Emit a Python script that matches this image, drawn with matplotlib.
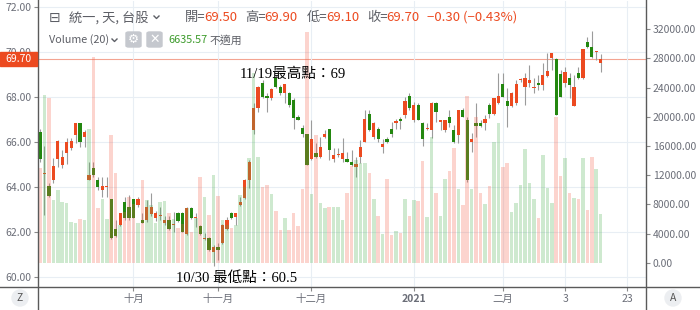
import matplotlib
matplotlib.use("Agg")
import matplotlib.pyplot as plt
import numpy as np
from matplotlib.lines import Line2D
from matplotlib.patches import Rectangle, FancyBboxPatch, Ellipse

plt.rcParams['font.family'] = ['Noto Sans CJK TC', 'DejaVu Sans']

# daily OHLC, 統一 (1216), 2020-09 .. 2021-03
opens = [66.46, 64.58, 64.04, 64.31, 65.23, 64.98, 65.50, 65.72, 66.31, 66.83,
         66.21, 64.31, 64.86, 64.31, 63.87, 64.02, 63.45, 62.12, 62.31, 63.32,
         63.13, 63.45, 63.20, 62.53, 62.53, 62.80, 62.64, 62.70, 62.41, 62.53,
         62.30, 62.83, 62.83, 61.90, 63.05, 62.63, 62.27, 61.71, 61.72, 61.10,
         61.32, 61.50, 62.12, 62.83, 62.65, 63.20, 63.50, 64.31, 66.53, 67.53,
         68.64, 68.04, 67.94, 68.83, 68.46, 68.16, 68.16, 67.87, 67.13, 66.61,
         66.34, 65.23, 65.53, 65.32, 66.22, 66.56, 65.23, 65.41, 65.23, 65.23,
         65.13, 64.90, 65.32, 66.01, 67.24, 66.21, 66.56, 65.79, 66.13, 66.56,
         66.83, 67.04, 67.20, 68.04, 66.98, 67.64, 66.83, 66.60, 66.53, 67.75,
         66.90, 66.53, 67.13, 66.53, 66.31, 67.42, 67.00, 66.01, 66.83, 66.83,
         66.83, 67.63, 67.24, 67.72, 68.56, 67.82, 67.61, 67.72, 68.75, 68.43,
         68.61, 68.42, 68.64, 68.53, 68.93, 69.72, 69.69, 69.02, 68.61, 68.86,
         67.61, 69.05, 68.83, 70.46, 70.24, 69.99, 69.50]
highs = [66.60, 65.82, 64.16, 65.27, 66.10, 65.64, 66.16, 66.16, 66.86, 66.86,
         66.53, 65.13, 65.13, 64.46, 64.46, 64.46, 63.45, 62.53, 62.83, 63.57,
         63.65, 63.45, 63.54, 62.83, 63.42, 63.72, 62.95, 63.13, 62.71, 62.71,
         62.90, 62.90, 62.90, 63.10, 63.13, 62.83, 62.31, 61.94, 61.79, 61.42,
         61.50, 62.35, 62.68, 62.90, 62.83, 63.57, 64.34, 65.20, 67.75, 68.49,
         68.75, 68.16, 68.38, 69.00, 68.53, 68.60, 68.24, 67.94, 67.20, 66.75,
         66.34, 67.00, 65.94, 66.24, 66.53, 66.56, 65.72, 65.72, 66.20, 65.57,
         65.64, 65.35, 66.09, 67.42, 67.42, 66.90, 66.65, 66.12, 66.24, 66.90,
         67.02, 67.10, 68.00, 68.16, 67.79, 67.72, 66.90, 66.83, 67.79, 67.79,
         67.00, 67.00, 67.42, 66.75, 67.42, 67.50, 67.10, 66.42, 67.75, 66.98,
         67.20, 67.72, 67.94, 69.05, 69.05, 68.39, 68.24, 68.75, 68.83, 69.05,
         69.42, 68.83, 68.98, 69.53, 69.94, 69.94, 69.72, 69.20, 69.35, 69.05,
         68.98, 69.35, 70.12, 70.65, 70.93, 70.06, 69.90]
lows = [65.10, 62.76, 63.57, 64.19, 64.90, 64.83, 65.02, 65.65, 65.94, 65.79,
        65.76, 64.31, 64.46, 63.87, 63.54, 63.57, 61.69, 61.79, 62.27, 62.53,
        62.53, 62.64, 63.13, 62.41, 62.46, 62.70, 62.50, 62.53, 62.30, 62.09,
        62.00, 62.46, 62.01, 61.85, 62.60, 62.24, 61.87, 61.64, 61.17, 60.50,
        60.75, 61.46, 62.09, 62.60, 62.31, 63.17, 63.45, 63.94, 66.36, 67.35,
        67.94, 67.35, 67.87, 68.38, 68.09, 67.72, 67.57, 66.56, 66.98, 66.24,
        65.00, 65.20, 65.27, 65.27, 66.20, 65.20, 65.12, 65.35, 65.12, 65.09,
        64.93, 64.46, 65.05, 66.01, 66.50, 66.12, 66.01, 65.53, 65.97, 66.24,
        66.60, 66.60, 67.05, 67.42, 66.90, 66.98, 65.83, 66.53, 66.16, 66.90,
        66.53, 66.46, 66.65, 65.94, 65.94, 67.10, 64.24, 65.57, 66.24, 66.65,
        66.53, 67.05, 67.20, 67.70, 68.00, 66.65, 67.57, 67.64, 68.68, 67.64,
        68.45, 68.16, 68.31, 68.31, 68.90, 69.20, 67.20, 67.98, 68.46, 67.94,
        67.61, 68.79, 68.79, 70.16, 69.72, 69.65, 69.10]
closes = [65.23, 64.62, 63.60, 64.93, 66.04, 65.35, 66.01, 66.04, 66.83, 66.01,
          66.43, 64.53, 64.53, 64.01, 64.04, 64.05, 61.72, 61.82, 62.83, 62.61,
          62.64, 62.64, 63.45, 62.41, 63.13, 63.13, 62.83, 62.72, 62.53, 62.12,
          62.32, 62.49, 62.01, 63.05, 62.64, 62.65, 61.90, 61.73, 61.20, 61.32,
          61.20, 62.31, 62.53, 62.64, 62.83, 63.35, 64.31, 65.13, 67.53, 68.46,
          68.01, 67.94, 68.34, 68.46, 68.16, 68.56, 67.64, 67.05, 66.98, 66.34,
          65.00, 66.12, 65.35, 65.76, 66.34, 65.64, 65.42, 65.43, 65.53, 65.13,
          65.00, 65.02, 65.76, 67.02, 66.53, 66.83, 66.12, 65.91, 66.01, 66.34,
          66.95, 66.93, 67.82, 67.50, 67.64, 66.98, 66.12, 66.62, 67.75, 67.35,
          67.00, 67.00, 66.83, 66.01, 67.42, 67.13, 64.31, 66.13, 66.71, 66.71,
          67.02, 67.24, 67.94, 68.04, 68.01, 67.61, 68.16, 68.56, 68.77, 68.83,
          68.76, 68.44, 68.53, 69.00, 69.16, 69.94, 67.20, 68.01, 69.13, 68.53,
          68.46, 68.83, 70.12, 70.21, 69.79, 70.00, 69.70]
volumes = [13000, 22970, 22520, 8590, 9960, 8360, 8130, 5620, 5390, 5980,
           5850, 18310, 28220, 7500, 8770, 6000, 17490, 12240, 5160, 7000,
           9000, 8000, 5500, 11330, 8590, 7900, 5480, 8310, 8450, 6760,
           5940, 4700, 5250, 7440, 4250, 6070, 11780, 9040, 6530, 12010,
           9130, 5850, 5160, 4700, 5200, 9300, 10400, 14300, 26000, 14500,
           10410, 10640, 9410, 7080, 4480, 6070, 4480, 6850, 5070, 10090,
           31650, 9360, 17500, 8130, 7440, 7670, 7670, 7670, 5850, 9590,
           13240, 14070, 13600, 13700, 12240, 8680, 6390, 3880, 11420, 3790,
           4340, 4110, 8680, 6390, 8590, 8450, 13930, 6300, 17260, 9590,
           6390, 11420, 12560, 15660, 10090, 7900, 22830, 10090, 19910, 9500,
           8040, 10500, 16580, 19180, 13150, 13610, 6990, 8220, 10640, 15530,
           10870, 8680, 6070, 14750, 10180, 8130, 20000, 11870, 14290, 9590,
           8810, 8680, 14290, 7210, 14430, 12830, 6635.57]

tick_pos = [21, 40, 61, 84, 104, 118, 132]
tick_labels = ['十月', '十一月', '十二月', '2021', '二月', '3', '23']
price_ticks = [60, 62, 64, 66, 68, 70, 72]
vol_ticks = [0, 4000, 8000, 12000, 16000, 20000, 24000, 28000, 32000]
last_price = 69.70

W, H = 700, 310
UP = '#ec4a20'
DOWN = '#23870f'
GRAY = '#6b6e78'
HEAD = '#5d5f66'


def fx(px):
    return px / W


def fy(py):
    return 1 - py / H


fig = plt.figure(figsize=(7, 3.1), dpi=100)

ax = fig.add_axes([fx(38), fy(287), (646 - 38) / W, (287 - 1) / H])
ax.set_xlim(-0.45, 136.18)
ax.set_ylim(59.556, 72.267)

x = np.arange(len(opens))
o = np.array(opens)
c = np.array(closes)
up = c >= o
body_col = np.where(up, UP, DOWN)
bottoms = np.minimum(o, c)
heights = np.maximum(np.abs(c - o), 0.04)

ax.grid(True, color='#e8eef4', lw=0.8, zorder=0)
ax.axhline(last_price, color='#f3a492', lw=0.8, zorder=1)
ax.vlines(x, lows, highs, color='#9b9b9b', lw=0.8, zorder=2)
ax.bar(x, heights, bottom=bottoms, width=0.72, color=body_col, lw=0, zorder=3)

ax.set_xticks(tick_pos)
ax.set_xticklabels(tick_labels)
for t in ax.get_xticklabels():
    if t.get_text() == '2021':
        t.set_fontweight('bold')
ax.set_yticks(price_ticks)
ax.set_yticklabels([f"{p:.2f}" for p in price_ticks])
ax.tick_params(axis='both', length=3, color='#8a8a8a', labelsize=7.5,
               labelcolor=GRAY, pad=2)

# volume overlay, drawn above the candles
axv = ax.twinx()
axv.set_ylim(-3329, 35853)
vol_col = np.where(up, '#4caf50', '#f4604a')
axv.bar(x, volumes, width=0.8, color=vol_col, alpha=0.27, lw=0)
axv.set_yticks(vol_ticks)
axv.set_yticklabels([f"{v:.2f}" for v in vol_ticks])
axv.tick_params(axis='y', length=3, color='#8a8a8a', labelsize=7.5,
                labelcolor=GRAY, pad=2)

for a in (ax, axv):
    for s in a.spines.values():
        s.set_visible(False)

# frame lines
for line in [((fx(38), fx(38)), (0, 1)),
             ((fx(646), fx(646)), (0, 1)),
             ((0, 1), (fy(287), fy(287)))]:
    fig.add_artist(Line2D(line[0], line[1], color='#5a5a5a', lw=1.0))

# last price tag (covers the 70.00 label as in the original)
fig.add_artist(Rectangle((0, fy(66)), fx(37), 14 / H, color=UP, zorder=5))
fig.text(fx(18.5), fy(59), '69.70', color='white', fontsize=7.5,
         ha='center', va='center', zorder=6)

# header
fig.text(fx(49), fy(17.5), '⊟', color=HEAD, fontsize=10, va='center')
fig.text(fx(69), fy(17.5), '統一, 天, 台股', color=HEAD, fontsize=9.5, va='center')
fig.add_artist(Line2D([fx(154), fx(156.5), fx(159)], [fy(16), fy(18.5), fy(16)],
                      color=HEAD, lw=1))
header = [(185, '開='), (245, '高='), (307, '低='), (367, '收=')]
vals = [(204, '69.50'), (264, '69.90'), (326, '69.10'), (386, '69.70'),
        (427, '−0.30 (−0.43%)')]
for px, s in header:
    fig.text(fx(px), fy(17.5), s, color=HEAD, fontsize=9.5, va='center')
for px, s in vals:
    fig.text(fx(px), fy(17.5), s, color=UP, fontsize=9.5, va='center')

fig.text(fx(49), fy(40), 'Volume (20)', color=HEAD, fontsize=7.8, va='center')
fig.add_artist(Line2D([fx(112), fx(114.5), fx(117)], [fy(39), fy(41.5), fy(39)],
                      color=HEAD, lw=1))
for bx, glyph in [(126, '⚙'), (147, '✕')]:
    fig.add_artist(FancyBboxPatch((fx(bx), fy(47)), 15 / W, 15 / H,
                                  boxstyle='round,pad=0,rounding_size=0.004',
                                  color='#c5c8ce'))
    fig.text(fx(bx + 7.5), fy(39.5), glyph, color='white', fontsize=9,
             ha='center', va='center', family='DejaVu Sans')
fig.text(fx(168), fy(40), '6635.57', color='#3b9a2a', fontsize=7.8, va='center')
fig.text(fx(210), fy(40), '不適用', color=HEAD, fontsize=7.8, va='center')

# annotations
ann_font = ['Liberation Serif', 'Noto Sans CJK TC']
fig.text(fx(240), fy(74), '11/19最高點：69', color='black', fontsize=10.5,
         va='center', family=ann_font)
fig.text(fx(176), fy(278), '10/30 最低點：60.5', color='black', fontsize=10.5,
         va='center', family=ann_font)

# corner buttons
for cx, s in [(20, 'Z'), (673, 'A')]:
    fig.add_artist(Ellipse((fx(cx), fy(298)), 16 / W, 16 / H, color='#eceef1'))
    fig.text(fx(cx), fy(298), s, color='#555555', fontsize=7.5,
             ha='center', va='center')

fig.savefig('out.png', dpi=100)
